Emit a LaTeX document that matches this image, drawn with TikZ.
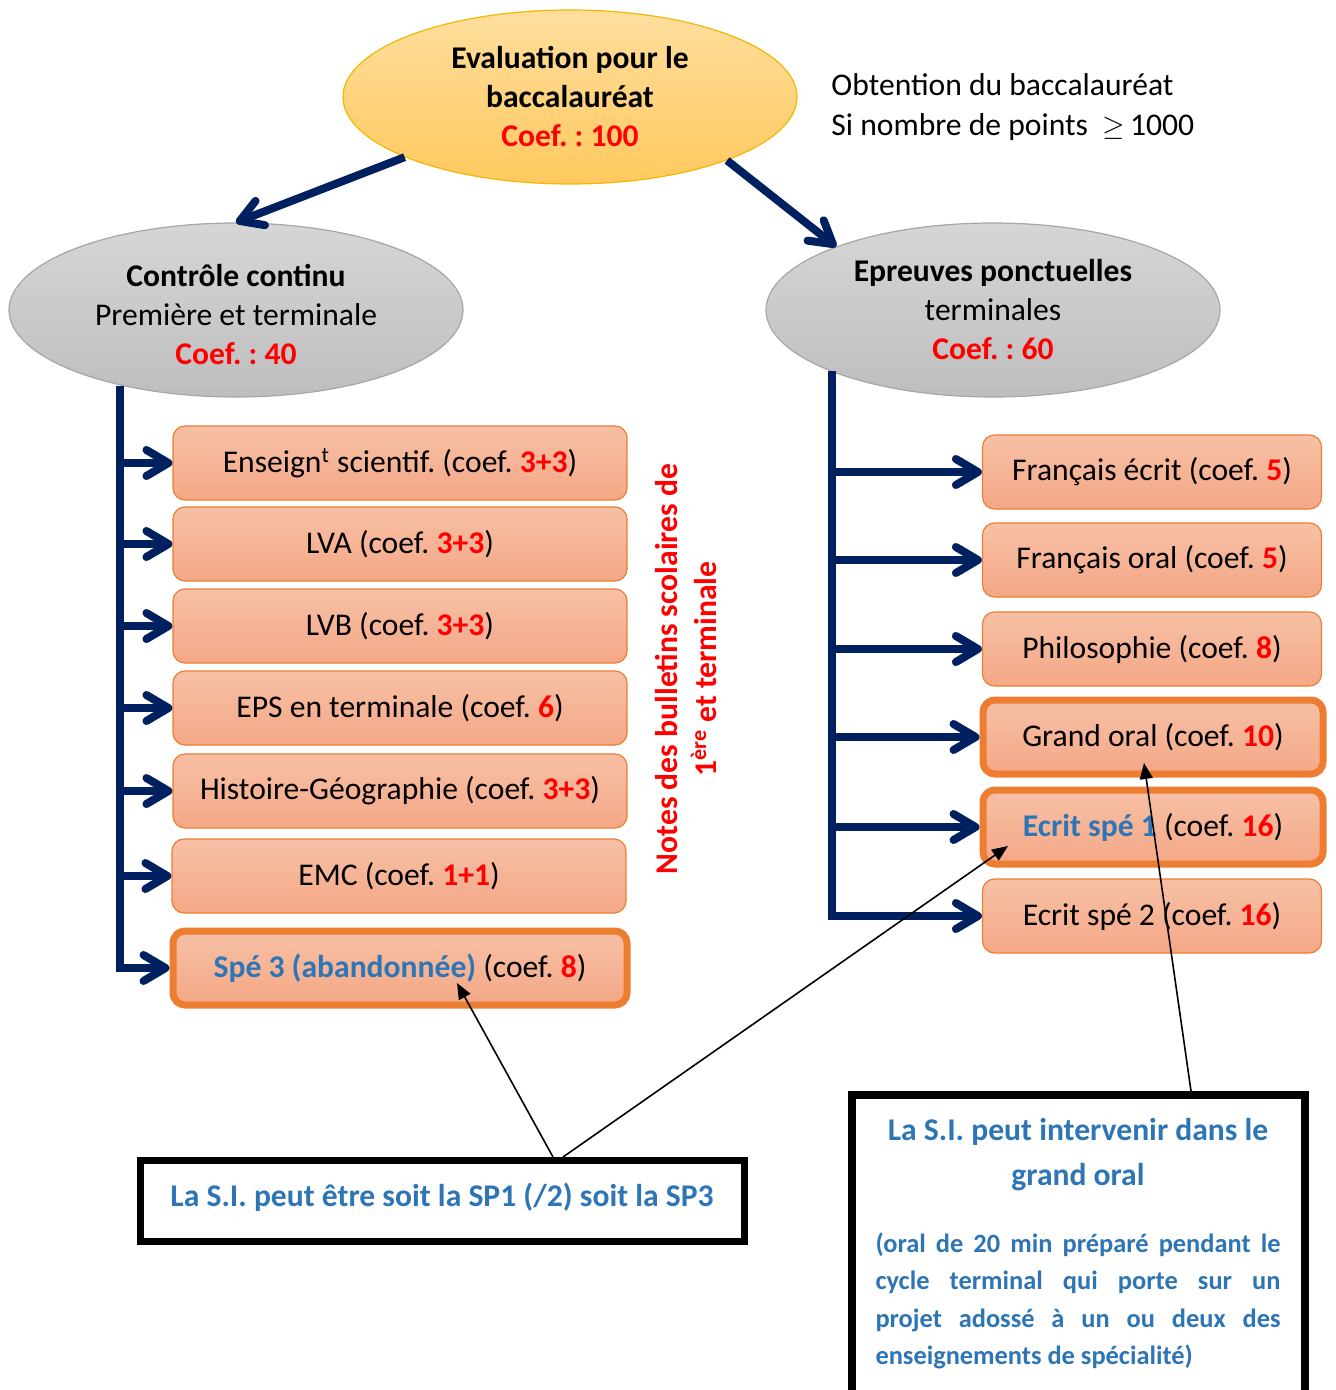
\documentclass[tikz,border=0pt]{standalone}
\usepackage{fontspec}
\setmainfont{Carlito}
\usetikzlibrary{arrows.meta,shapes.geometric,calc}
\definecolor{navy}{HTML}{002060}
\definecolor{cred}{HTML}{FF0000}
\definecolor{cblue}{HTML}{2E75B6}
\definecolor{corange}{HTML}{ED7D31}
\definecolor{boxtop}{HTML}{F7C0A6}
\definecolor{boxbot}{HTML}{F4A886}
\definecolor{greytop}{HTML}{D6D6D6}
\definecolor{greybot}{HTML}{BEBEBE}
\definecolor{greyline}{HTML}{A6A6A6}
\definecolor{yeltop}{HTML}{FFDE9E}
\definecolor{yelbot}{HTML}{FFC95F}
\definecolor{yelline}{HTML}{F2B800}
\newcommand\redb[1]{{\bfseries\color{cred}#1}}
\frenchspacing
\begin{document}
\begin{tikzpicture}[x=0.5pt,y=-0.5pt,
  txt/.style={font=\fontsize{15.8}{19.5}\selectfont},
  sbox/.style={txt, rectangle, rounded corners=6pt, draw=corange, line width=0.6pt,
    top color=boxtop, bottom color=boxbot, minimum width=227pt, minimum height=37pt, inner sep=0pt},
  tbox/.style={sbox, line width=3.5pt},
  rsbox/.style={sbox, minimum width=169.5pt},
  rtbox/.style={rsbox, line width=3.5pt, minimum width=170pt},
  ell/.style={txt, ellipse, inner sep=0pt, minimum width=227pt, minimum height=87pt, align=center},
  greyell/.style={ell, draw=greyline, line width=0.6pt, top color=greytop, bottom color=greybot},
  yelell/.style={ell, draw=yelline, line width=0.6pt, top color=yeltop, bottom color=yelbot, font=\fontsize{15.8}{19.5}\selectfont\bfseries},
  navyarr/.style={draw=navy, line width=4pt, -{Straight Barb[length=11pt,width=13pt,line cap=round,line join=round]}},
  thinarr/.style={draw=black, line width=0.8pt, -{Triangle[length=8pt,width=6.5pt]}},
  sibox/.style={draw=black, line width=3.5pt, inner sep=0pt, fill=white}
]
\clip (0,0) rectangle (1336,1390);

% ellipses
\node[yelell] (top) at (570,97) {Evaluation pour le\\baccalauréat\\\redb{Coef. : 100}};
\node[greyell] (cc) at (236,310) {\raisebox{0pt}[\dimexpr\height+5pt\relax]{\textbf{Contrôle continu}}\\Première et terminale\\\redb{Coef. : 40}};
\node[greyell] (ep) at (993,310) {\textbf{Epreuves ponctuelles}\\terminales\\\redb{Coef. : 60}};

\node[txt, anchor=west, align=left, inner sep=0pt, font=\fontsize{15.8}{20}\selectfont] (obt) at (831,107)
  {Obtention du baccalauréat\\Si nombre de points \ $\geq$\,1000};

% left boxes
\node[sbox] (b1) at (400,463) {Enseign\textsuperscript{t} scientif. (coef. \redb{3+3})};
\node[sbox] (b2) at (400,544) {LVA (coef. \redb{3+3})};
\node[sbox] (b3) at (400,626) {LVB (coef. \redb{3+3})};
\node[sbox] (b4) at (400,708) {EPS en terminale (coef. \redb{6})};
\node[sbox] (b5) at (400,791) {Histoire-Géographie (coef. \redb{3+3})};
\node[sbox] (b6) at (399,876) {EMC (coef. \redb{1+1})};
\node[tbox] (b7) at (400,968) {{\bfseries\color{cblue}Spé 3 (abandonnée)} (coef. \redb{8})};

% right boxes
\node[rsbox] (r1) at (1152,472) {Français écrit (coef. \redb{5})};
\node[rsbox] (r2) at (1152,560) {Français oral (coef. \redb{5})};
\node[rsbox] (r3) at (1152,649) {Philosophie (coef. \redb{8})};
\node[rtbox] (r4) at (1153,737) {Grand oral (coef. \redb{10})};
\node[rtbox] (r5) at (1153,827) {{\bfseries\color{cblue}Ecrit spé 1} (coef. \redb{16})};
\node[rsbox] (r6) at (1152,916) {Ecrit spé 2 (coef. \redb{16})};

% rotated label
\node[txt, rotate=90, align=center, font=\fontsize{15.8}{19.5}\selectfont\bfseries, text=cred] (notes) at (686,669)
  {Notes des bulletins scolaires de\\1\textsuperscript{ère} et terminale};

% navy connectors
\draw[navyarr] (top.200.6) -- (cc.north);
\draw[navyarr] (top.338.6) -- (ep.158.3);

\coordinate (lv) at (120,386);
\draw[navyarr] (lv) |- (b7.west);
\foreach \b in {b1,b2,b3,b4,b5,b6} \draw[navyarr] (lv |- \b.west) -- (\b.west);

\coordinate (rv) at (832,371);
\draw[navyarr] (rv) |- (r6.west);
\foreach \b in {r1,r2,r3,r4,r5} \draw[navyarr] (rv |- \b.west) -- (\b.west);

% bottom boxes
\node[sibox, minimum width=302pt, minimum height=40.5pt, font=\fontsize{15.8}{19.5}\selectfont\bfseries, text=cblue] (sil) at (442,1201)
  {\raisebox{6pt}{La S.I. peut être soit la SP1 (/2) soit la SP3}};
\node[sibox, line width=4pt, minimum width=226.5pt, minimum height=155pt] (sir) at (1078,1250) {};
\node[align=center, inner sep=0pt, font=\fontsize{15.8}{22.5}\selectfont\bfseries, text=cblue] (sirt) at (1078,1155)
  {La S.I. peut intervenir dans le\\grand oral};
\node[text width=202.5pt, align=justify, inner sep=0pt, font=\fontsize{13.2}{18.75}\selectfont\bfseries, text=cblue] (sirp) at (1078,1301)
  {(oral de 20 min préparé pendant le\linebreak cycle terminal qui porte sur un\linebreak projet adossé à un ou deux des\linebreak enseignements de spécialité)};

% thin arrows
\draw[thinarr] ($(sil.north)+(111,0)$) -- ($(b7.center)+(57,15)$);
\draw[thinarr] ($(sil.north)+(121,0)$) -- ($(r5.center)+(-145,19)$);
\draw[thinarr] ($(sir.north)+(113,0)$) -- ($(r4.center)+(-9,26)$);
\end{tikzpicture}
\end{document}
